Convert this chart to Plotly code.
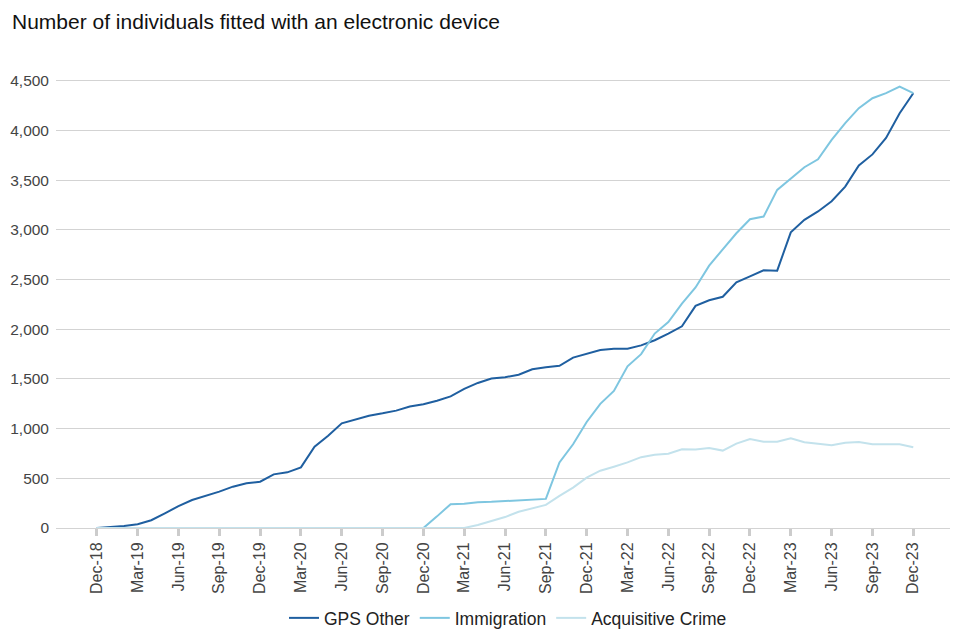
import plotly.graph_objects as go
import pandas as pd

# Monthly categories Dec-18 .. Dec-23
months = [d.strftime("%b-%y") for d in pd.date_range("2018-12-01", "2023-12-01", freq="MS")]

gps_other = [
    0, 8, 20, 38, 78, 148, 220, 282, 322, 366, 416, 450,
    466, 540, 560, 610, 818, 929, 1053, 1094, 1130, 1154, 1181, 1222,
    1245, 1280, 1325, 1400, 1460, 1505, 1518, 1542, 1598, 1618, 1632, 1715,
    1755, 1792, 1805, 1805, 1838, 1890, 1957, 2030, 2235, 2292, 2327, 2473,
    2532, 2594, 2590, 2976, 3101, 3186, 3289, 3436, 3648, 3760, 3925, 4174,
    4376,
]

immigration = [0] * 25 + [
    117, 240, 243, 260, 263, 270, 277, 283, 293, 660, 843,
    1067, 1250, 1380, 1627, 1750, 1957, 2073, 2258, 2421, 2640, 2805, 2966,
    3107, 3134, 3403, 3520, 3631, 3711, 3906, 4074, 4225, 4325, 4376, 4443,
    4376,
]

acquisitive_crime = [0] * 28 + [
    30, 67, 110, 163, 200, 233, 323, 407,
    507, 577, 617, 660, 713, 737, 747, 792, 789, 805, 779, 849,
    896, 869, 869, 903, 863, 846, 833, 859, 866, 843, 846, 843,
    813,
]

series = [
    ("GPS Other", gps_other, "#1f5fa0"),
    ("Immigration", immigration, "#7ec6e0"),
    ("Acquisitive Crime", acquisitive_crime, "#c3e2ec"),
]

x_idx = list(range(len(months)))
tick_idx = x_idx[::3]
tick_text = [months[i] for i in tick_idx]

fig = go.Figure()
for name, vals, col in series:
    fig.add_trace(go.Scatter(
        x=x_idx, y=vals, name=name, mode="lines",
        line=dict(color=col, width=2),
        hovertemplate="%{text}: %{y:,}<extra>" + name + "</extra>",
        text=months,
    ))

fig.update_layout(
    width=960, height=640,
    paper_bgcolor="white", plot_bgcolor="white",
    margin=dict(l=48, r=18, t=53, b=120),
    font=dict(family="Liberation Sans, Arial, sans-serif", color="#444444"),
    title=dict(
        text="Number of individuals fitted with an electronic device",
        x=4 / 960, xanchor="left", xref="container",
        y=1 - 6 / 640, yanchor="top", yref="container",
        pad=dict(t=0, l=0),
        font=dict(size=21, color="#111111"),
    ),
    showlegend=True,
    legend=dict(
        orientation="h", x=500 / 960, xanchor="center", xref="container",
        y=(640 - 610) / 640, yanchor="middle", yref="container",
        font=dict(size=17.5, color="#222222"),
        itemwidth=30,
    ),
    xaxis=dict(
        range=[-3, 62.7],
        tickmode="array", tickvals=tick_idx, ticktext=tick_text,
        tickangle=-90,
        ticks="outside", ticklen=7, tickwidth=3, tickcolor="#cccccc",
        showgrid=False, zeroline=False,
        showline=False, automargin=False,
        tickfont=dict(size=16, color="#444444"),
    ),
    yaxis=dict(
        range=[0, 4700],
        tickmode="array", tickvals=list(range(0, 5000, 500)),
        tickformat=",",
        showgrid=True, gridcolor="#d3d3d3", gridwidth=1,
        zeroline=True, zerolinecolor="#d3d3d3", zerolinewidth=1,
        ticks="", ticklabelstandoff=6, automargin=False,
        tickfont=dict(size=15.5, color="#444444"),
    ),
)

fig.write_html("out.html")
